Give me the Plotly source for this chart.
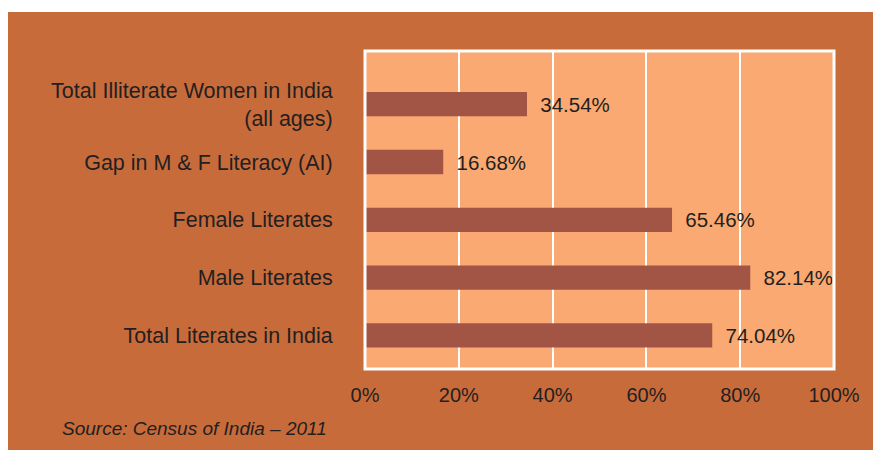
import plotly.graph_objects as go

categories = [
    "Total Literates in India",
    "Male Literates",
    "Female Literates",
    "Gap in M & F Literacy (AI)",
    "Total Illiterate Women in India<br>(all ages)",
]
values = [74.04, 82.14, 65.46, 16.68, 34.54]
x_ticks = [0, 20, 40, 60, 80, 100]
x_tick_labels = ["0%", "20%", "40%", "60%", "80%", "100%"]
source_text = "Source: Census of India \u2013 2011"

# page body has an 8px margin: figure pixel = screen pixel - 8
OFF = 8
W, H = 881, 450
L, T = 365 - OFF, 51 - OFF
R = W - (834 - OFF)
B = H - (369 - OFF)
pw, ph = W - L - R, H - T - B

FONT = "Liberation Sans, Arial, sans-serif"
TXT = "#231f20"
BG = "#C86B3B"
PLOT = "#F9A971"
BAR = "#A25544"

fig = go.Figure(
    go.Bar(
        y=categories,
        x=values,
        orientation="h",
        marker=dict(color=BAR, line=dict(width=0)),
        width=0.42,
        texttemplate="\u2002%{x:.2f}%",
        textposition="outside",
        textfont=dict(family=FONT, size=20.5, color=TXT),
        cliponaxis=False,
        hoverinfo="skip",
    )
)

def px_x(p):
    return (p - OFF - L) / pw

def px_y(p):
    return (H - B - (p - OFF)) / ph

fig.update_layout(
    width=W,
    height=H,
    margin=dict(l=L, r=R, t=T, b=B),
    paper_bgcolor=BG,
    plot_bgcolor=PLOT,
    showlegend=False,
    font=dict(family=FONT, size=20, color=TXT),
    xaxis=dict(
        range=[0, 100],
        tickvals=x_ticks,
        ticktext=x_tick_labels,
        showgrid=True,
        gridcolor="white",
        gridwidth=2,
        zeroline=False,
        showline=False,
        ticks="outside",
        ticklen=8,
        tickcolor="rgba(0,0,0,0)",
        tickfont=dict(family=FONT, size=20, color=TXT),
        fixedrange=True,
    ),
    yaxis=dict(
        type="category",
        range=[-0.58, 4.92],
        showgrid=False,
        zeroline=False,
        showline=False,
        ticks="outside",
        ticklen=27,
        tickcolor="rgba(0,0,0,0)",
        tickfont=dict(family=FONT, size=21.5, color=TXT),
        fixedrange=True,
    ),
    shapes=[
        dict(type="rect", xref="paper", yref="paper", x0=0, x1=1, y0=0, y1=1,
             line=dict(color="white", width=3), fillcolor="rgba(0,0,0,0)", layer="above"),
        dict(type="rect", xref="paper", yref="paper", x0=px_x(-20), x1=px_x(W + 20),
             y0=px_y(12), y1=px_y(-20), line=dict(width=0), fillcolor="white", layer="above"),
    ],
    annotations=[
        dict(text=source_text, xref="paper", yref="paper", x=px_x(60), y=px_y(428),
             xanchor="left", yanchor="middle", showarrow=False,
             font=dict(family=FONT, size=19, color=TXT, style="italic")),
    ],
)

fig.write_html("out.html")
